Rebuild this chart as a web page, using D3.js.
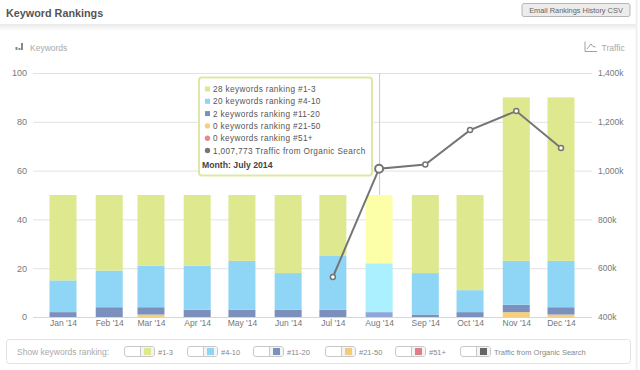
<!DOCTYPE html>
<html>
<head>
<meta charset="utf-8">
<script src="https://cdn.jsdelivr.net/npm/d3@7"></script>
<style>
html, body { margin: 0; padding: 0; background: #fff; }
svg { display: block; font-family: "Liberation Sans", Arial, sans-serif; }
</style>
</head>
<body>
<div id="chart"></div>
<script>
// chart values
var months = ['2014-01-01','2014-02-01','2014-03-01','2014-04-01','2014-05-01','2014-06-01','2014-07-01','2014-08-01','2014-09-01','2014-10-01','2014-11-01','2014-12-01'];
var monthLabels = ["Jan '14","Feb '14","Mar '14","Apr '14","May '14","Jun '14","Jul '14","Aug '14","Sep '14","Oct '14","Nov '14","Dec '14"];
var rank1to3 =   [35,31,29,29,27,32,25,28,32,39,67,67];
var rank4to10 =  [13,15,17,18,20,15,22,20,17, 9,18,19];
var rank11to20 = [ 2, 4, 3, 3, 3, 3, 3, 2, 1, 2, 3, 3];
var rank21to50 = [ 0, 0, 1, 0, 0, 0, 0, 0, 0, 0, 2, 1];
var rank51plus = [ 0, 0, 0, 0, 0, 0, 0, 0, 0, 0, 0, 0];
var traffic = [null,null,null,null,null,null,564000,1007773,1025000,1166000,1244000,1093000];
var leftTicks = [0,20,40,60,80,100];
var rightTicks = [400000,600000,800000,1000000,1200000,1400000];
var hoverIndex = 7;
var tooltipLines = [
  {text: '28 keywords ranking #1-3', color: '#dde88f', shape: 'square'},
  {text: '20 keywords ranking #4-10', color: '#8fd5f5', shape: 'square'},
  {text: '2 keywords ranking #11-20', color: '#7c90bd', shape: 'square'},
  {text: '0 keywords ranking #21-50', color: '#f5cf7d', shape: 'circle'},
  {text: '0 keywords ranking #51+', color: '#e58a8f', shape: 'circle'},
  {text: '1,007,773 Traffic from Organic Search', color: '#777777', shape: 'circle'}
];
var legendItems = [
  {label: '#1-3', color: '#dde88f', x: 124},
  {label: '#4-10', color: '#8fd5f5', x: 187},
  {label: '#11-20', color: '#7c90bd', x: 253},
  {label: '#21-50', color: '#f0cd7c', x: 325},
  {label: '#51+', color: '#dd7f88', x: 395},
  {label: 'Traffic from Organic Search', color: '#666666', x: 460}
];

var width = 640, height = 370;
var svg = d3.select('#chart').append('svg').attr('width', width).attr('height', height);

// page furniture
var shadow = svg.append('defs').append('linearGradient').attr('id', 'hdr').attr('x1', 0).attr('x2', 0).attr('y1', 0).attr('y2', 1);
shadow.append('stop').attr('offset', 0).attr('stop-color', '#e9e9e9');
shadow.append('stop').attr('offset', 1).attr('stop-color', '#ffffff');
svg.append('rect').attr('x', 0).attr('y', 24).attr('width', 636).attr('height', 7).attr('fill', 'url(#hdr)');
svg.append('line').attr('x1', 636.5).attr('x2', 636.5).attr('y1', 0).attr('y2', 370).attr('stroke', '#efefef').attr('stroke-width', 2);
svg.append('text').attr('x', 6).attr('y', 16.5).attr('font-size', 10.8).attr('font-weight', 'bold').attr('fill', '#555').text('Keyword Rankings');

var btn = svg.append('g');
btn.append('rect').attr('x', 522).attr('y', 3.5).attr('width', 108).attr('height', 13).attr('rx', 2).attr('fill', '#ececec').attr('stroke', '#b5b5b5');
btn.append('text').attr('x', 576).attr('y', 13).attr('text-anchor', 'middle').attr('font-size', 7.4).attr('fill', '#666').text('Email Rankings History CSV');

// scales
var parse = d3.utcParse('%Y-%m-%d');
var dates = months.map(parse);
var x = d3.scaleUtc().domain([dates[0], dates[11]]).range([63, 561]);
var y = d3.scaleLinear().domain([0, 100]).range([317, 73]);
var yTraffic = d3.scaleLinear().domain([400000, 1400000]).range([317, 73]);
var barWidth = 27;

// grid
svg.append('g').selectAll('line').data(leftTicks).join('line')
  .attr('x1', 33).attr('x2', 592)
  .attr('y1', d => y(d) + 0.5).attr('y2', d => y(d) + 0.5)
  .attr('stroke', d => d === 0 ? '#cfd8e0' : '#e2e2e2');

// crosshair, sits behind the bars
svg.append('line').attr('x1', x(dates[hoverIndex]) + 0.5).attr('x2', x(dates[hoverIndex]) + 0.5)
  .attr('y1', y(100)).attr('y2', y(0)).attr('stroke', '#c8c8c8');

// stacked bars
var seriesNames = ['r51', 'r21', 'r11', 'r4', 'r1'];
var rows = dates.map((d, i) => ({date: d, i: i, r51: rank51plus[i], r21: rank21to50[i], r11: rank11to20[i], r4: rank4to10[i], r1: rank1to3[i]}));
var stack = d3.stack().keys(seriesNames)(rows);
var barColor = {r1: '#dde88f', r4: '#8fd5f5', r11: '#7c90bd', r21: '#f5cf7d', r51: '#dd7f88'};
var hoverColor = {r1: '#fdffa8', r4: '#abf0ff', r11: '#8fa6d9', r21: '#ffe590', r51: '#ff929c'};

svg.append('g').selectAll('g').data(stack).join('g')
  .selectAll('rect').data(s => s.map(p => ({key: s.key, p: p}))).join('rect')
  .attr('x', d => x(d.p.data.date) - barWidth / 2)
  .attr('width', barWidth)
  .attr('y', d => y(d.p[1]))
  .attr('height', d => y(d.p[0]) - y(d.p[1]))
  .attr('fill', d => d.p.data.i === hoverIndex ? hoverColor[d.key] : barColor[d.key]);

// axis labels
var leftAxis = d3.axisLeft(y).tickValues(leftTicks).tickSize(0).tickPadding(0);
var gl = svg.append('g').attr('transform', 'translate(27,0)').call(leftAxis);
gl.select('.domain').remove();
gl.selectAll('text').attr('font-size', 9).attr('font-family', '"Liberation Sans", Arial, sans-serif').attr('fill', '#777');

var rightAxis = d3.axisRight(yTraffic).tickValues(rightTicks).tickSize(0).tickPadding(0)
  .tickFormat(d => d3.format(',')(d / 1000) + 'k');
var gr = svg.append('g').attr('transform', 'translate(598,0)').call(rightAxis);
gr.select('.domain').remove();
gr.selectAll('text').attr('font-size', 8.5).attr('font-family', '"Liberation Sans", Arial, sans-serif').attr('fill', '#777');

var bottomAxis = d3.axisBottom(x).tickValues(dates).tickSize(0).tickPadding(0)
  .tickFormat((d, i) => monthLabels[i]);
var gb = svg.append('g').attr('transform', 'translate(0,320)').call(bottomAxis);
gb.select('.domain').remove();
gb.selectAll('text').attr('font-size', 8.5).attr('font-family', '"Liberation Sans", Arial, sans-serif').attr('fill', '#777');

// axis titles with small icons
svg.append('text').attr('x', 30).attr('y', 51).attr('font-size', 8.5).attr('fill', '#aaa').text('Keywords');
svg.append('text').attr('x', 601.5).attr('y', 51).attr('font-size', 8.5).attr('fill', '#aaa').text('Traffic');
var icon = svg.append('g').attr('fill', '#888');
[[15.5, 3], [18.5, 2], [21, 7]].forEach(b => icon.append('rect').attr('x', b[0]).attr('y', 50 - b[1]).attr('width', 2).attr('height', b[1]));
svg.append('path').attr('d', 'M585 41.5V51.5H597M587 49L591 44L593 46.5L595.5 47').attr('fill', 'none').attr('stroke', '#888').attr('stroke-width', 0.8);

// traffic line
var trafficPts = dates.map((d, i) => ({date: d, v: traffic[i], i: i})).filter(d => d.v !== null);
var line = d3.line().x(d => x(d.date)).y(d => yTraffic(d.v));
svg.append('path').datum(trafficPts).attr('d', line).attr('fill', 'none').attr('stroke', '#757575').attr('stroke-width', 2);
svg.append('g').selectAll('circle').data(trafficPts).join('circle')
  .attr('cx', d => x(d.date)).attr('cy', d => yTraffic(d.v))
  .attr('r', d => d.i === hoverIndex ? 4 : 2.5)
  .attr('fill', '#fff').attr('stroke', '#757575').attr('stroke-width', d => d.i === hoverIndex ? 2 : 1.5);

// tooltip
var tip = svg.append('g').attr('transform', 'translate(199,77.5)');
tip.append('rect').attr('width', 173).attr('height', 98).attr('rx', 3)
  .attr('fill', 'rgba(255,255,255,0.93)').attr('stroke', '#dde8a8').attr('stroke-width', 2);
tooltipLines.forEach((t, i) => {
  var ty = 11.5 + i * 12.3;
  if (t.shape === 'square') {
    tip.append('rect').attr('x', 6).attr('y', ty - 2.5).attr('width', 5).attr('height', 5).attr('fill', t.color);
  } else {
    tip.append('circle').attr('cx', 8.5).attr('cy', ty).attr('r', 2.7).attr('fill', t.color);
  }
  tip.append('text').attr('x', 14).attr('y', ty + 3).attr('font-size', 8.2).attr('letter-spacing', 0.38).attr('fill', '#555').text(t.text);
});
tip.append('text').attr('x', 3).attr('y', 90.5).attr('font-size', 8.7).attr('font-weight', 'bold').attr('fill', '#444').text('Month: July 2014');

// legend box
var legend = svg.append('g');
legend.append('rect').attr('x', 6.5).attr('y', 339.5).attr('width', 624).attr('height', 24).attr('rx', 3).attr('fill', '#fff').attr('stroke', '#e2e2e2');
legend.append('text').attr('x', 17).attr('y', 355).attr('font-size', 8.5).attr('fill', '#aaa').text('Show keywords ranking:');
var items = legend.selectAll('g.item').data(legendItems).join('g').attr('class', 'item')
  .attr('transform', d => 'translate(' + d.x + ',0)');
items.append('rect').attr('x', 0.5).attr('y', 346.5).attr('width', 30).attr('height', 10).attr('rx', 2.5).attr('fill', '#fff').attr('stroke', '#c8c8c8');
items.append('rect').attr('x', 17).attr('y', 347).attr('width', 13).attr('height', 9).attr('rx', 1).attr('fill', '#f4f4f4');
items.append('rect').attr('x', 20).attr('y', 348).attr('width', 7).attr('height', 7).attr('fill', d => d.color);
items.append('line').attr('x1', 16.5).attr('x2', 16.5).attr('y1', 346.5).attr('y2', 356.5).attr('stroke', '#c8c8c8');
items.append('text').attr('x', 34).attr('y', 355).attr('font-size', 7.5).attr('fill', '#888').text(d => d.label);
</script>
</body>
</html>
